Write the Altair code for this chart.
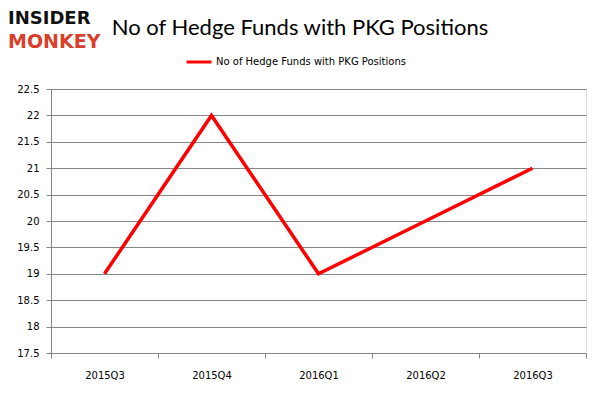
import altair as alt
import pandas as pd

quarters = ["2015Q3", "2015Q4", "2016Q1", "2016Q2", "2016Q3"]
funds = [19, 22, 19, 20, 21]
series_name = "No of Hedge Funds with PKG Positions"
y_ticks = [17.5, 18, 18.5, 19, 19.5, 20, 20.5, 21, 21.5, 22, 22.5]

df = pd.DataFrame({"quarter": quarters, "funds": funds, "series": [series_name] * len(quarters)})

grid_color = "#868686"

line = alt.Chart(df).mark_line(strokeWidth=3.5, strokeCap="butt").encode(
    x=alt.X("quarter:N", sort=quarters, bandPosition=0.5,
            scale=alt.Scale(type="band", paddingInner=0, paddingOuter=0),
            axis=alt.Axis(title=None, labelAngle=0, tickBand="extent", grid=False,
                          domainColor=grid_color, tickColor=grid_color, tickSize=5,
                          labelPadding=12, labelFont="DejaVu Sans", labelFontSize=10,
                          labelColor="#000000")),
    y=alt.Y("funds:Q", scale=alt.Scale(domain=[17.5, 22.5], nice=False, zero=False),
            axis=alt.Axis(title=None, values=y_ticks, format="~g", grid=True,
                          gridColor=grid_color, domainColor=grid_color, tickColor=grid_color,
                          tickSize=5, labelPadding=7, labelFont="DejaVu Sans", labelFontSize=10,
                          labelColor="#000000")),
    color=alt.Color("series:N", scale=alt.Scale(range=["#ff0000"]),
                    legend=alt.Legend(title=None, orient="none", legendX=134, legendY=-41,
                                      symbolType="stroke", symbolSize=625, symbolStrokeWidth=3,
                                      labelFont="DejaVu Sans", labelFontSize=10, labelColor="#000000",
                                      labelOffset=3, labelLimit=0)),
)

logo_top = alt.Chart(pd.DataFrame({"t": ["INSIDER"]})).mark_text(
    font="DejaVu Sans", fontWeight="bold", fontSize=18, color="#111111", align="left", baseline="middle"
).encode(text="t:N", x=alt.value(-43), y=alt.value(-70))

logo_bottom = alt.Chart(pd.DataFrame({"t": ["MONKEY"]})).mark_text(
    font="DejaVu Sans", fontWeight="bold", fontSize=19, color="#d9402b", align="left", baseline="middle"
).encode(text="t:N", x=alt.value(-43), y=alt.value(-47))

title = alt.Chart(pd.DataFrame({"t": [series_name]})).mark_text(
    font="Lato", fontSize=22, color="#000000", align="center", baseline="middle"
).encode(text="t:N", x=alt.value(249), y=alt.value(-61))

chart = alt.layer(line, logo_top, logo_bottom, title).properties(
    width=535, height=264,
    autosize=alt.AutoSizeParams(type="none"),
    padding={"left": 43, "top": 81, "right": 8, "bottom": 37},
).configure_view(stroke=None).configure(background="#ffffff")

chart.save("out.html", embed_options={"renderer": "svg", "actions": False})
